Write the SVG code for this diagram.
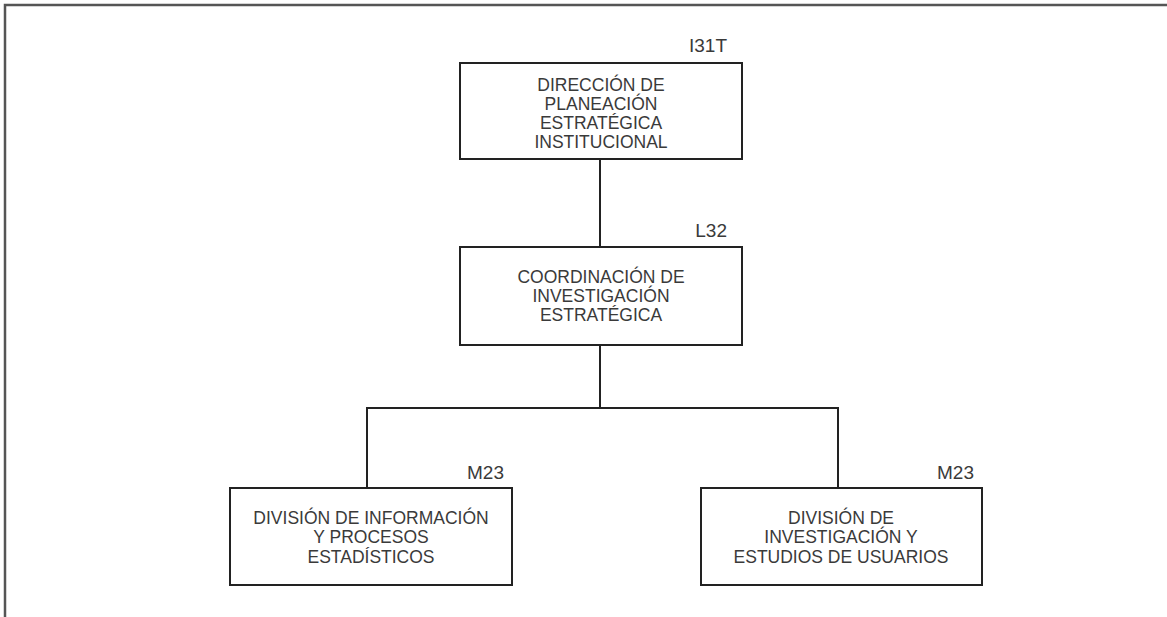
<svg xmlns="http://www.w3.org/2000/svg" width="1167" height="617" viewBox="0 0 1167 617">
<style>
.box{fill:#fff;stroke:#222;stroke-width:2}
.t{font-family:"Liberation Sans",Arial,sans-serif;font-size:17.5px;fill:#3a3a3a;text-anchor:middle}
.code{font-family:"Liberation Sans",Arial,sans-serif;font-size:19px;fill:#3a3a3a;text-anchor:end}
.ln{stroke:#222;stroke-width:2;fill:none}
.frame{stroke:#555;stroke-width:2.5;fill:none}
</style>
<rect width="1167" height="617" fill="#fff"/>
<path class="frame" d="M5,617 V5 H1167"/>
<g id="connectors">
<line class="ln" x1="600" y1="159" x2="600" y2="247"/>
<line class="ln" x1="600" y1="345" x2="600" y2="408"/>
<polyline class="ln" points="367,488 367,408 838,408 838,488"/>
</g>
<g id="n1">
<rect class="box" x="460" y="63" width="282" height="96"/>
<text class="code" x="727" y="52">I31T</text>
<text class="t" x="601" y="91">DIRECCIÓN DE</text>
<text class="t" x="601" y="110">PLANEACIÓN</text>
<text class="t" x="601" y="129">ESTRATÉGICA</text>
<text class="t" x="601" y="148">INSTITUCIONAL</text>
</g>
<g id="n2">
<rect class="box" x="460" y="247" width="282" height="98"/>
<text class="code" x="727" y="237">L32</text>
<text class="t" x="601" y="283">COORDINACIÓN DE</text>
<text class="t" x="601" y="302">INVESTIGACIÓN</text>
<text class="t" x="601" y="321">ESTRATÉGICA</text>
</g>
<g id="n3">
<rect class="box" x="230" y="488" width="282" height="97"/>
<text class="code" x="504" y="479">M23</text>
<text class="t" x="371" y="524">DIVISIÓN DE INFORMACIÓN</text>
<text class="t" x="371" y="543">Y PROCESOS</text>
<text class="t" x="371" y="563">ESTADÍSTICOS</text>
</g>
<g id="n4">
<rect class="box" x="701" y="488" width="281" height="97"/>
<text class="code" x="974" y="479">M23</text>
<text class="t" x="841" y="524">DIVISIÓN DE</text>
<text class="t" x="841" y="543">INVESTIGACIÓN Y</text>
<text class="t" x="841" y="563">ESTUDIOS DE USUARIOS</text>
</g>
</svg>
